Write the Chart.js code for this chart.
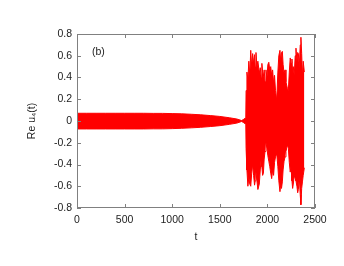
<!DOCTYPE html>
<html>
<head>
<meta charset="utf-8">
<script src="https://cdn.jsdelivr.net/npm/chart.js@4/dist/chart.umd.min.js"></script>
<style>
  html, body { margin: 0; padding: 0; background: #fff; }
  #wrap { width: 344px; height: 266px; }
</style>
</head>
<body>
<div id="wrap"><canvas id="grafica" width="344" height="266"></canvas></div>
<script>
// envelope of Re u4(t)
const tiempos = [0, 100, 200, 300, 400, 500, 600, 700, 800, 900, 1000, 1100, 1200, 1300, 1400, 1500, 1600, 1680, 1730, 1750, 1773,
  1776, 1785, 1795, 1805, 1815, 1825, 1835, 1845, 1855, 1865, 1872, 1880, 1890, 1900, 1915, 1925, 1935, 1942, 1950, 1958,
  1966, 1975, 1985, 1995, 2005, 2015, 2025, 2035, 2045, 2055, 2065, 2075, 2085, 2098, 2110, 2120, 2132, 2140, 2148, 2157,
  2165, 2175, 2185, 2195, 2210, 2220, 2230, 2240, 2248, 2258, 2265, 2272, 2282, 2292, 2300, 2310, 2318, 2325, 2335, 2345,
  2352, 2360, 2368, 2376, 2388];
const superior = [0.071, 0.071, 0.071, 0.071, 0.071, 0.071, 0.071, 0.071, 0.07, 0.07, 0.068, 0.066, 0.062, 0.057, 0.05, 0.042, 0.03, 0.018, 0.004, 0.015, 0.03,
  0.28, 0.45, 0.38, 0.55, 0.42, 0.65, 0.50, 0.62, 0.53, 0.61, 0.50, 0.63, 0.50, 0.55, 0.44, 0.49, 0.40, 0.53, 0.45, 0.41,
  0.47, 0.36, 0.47, 0.40, 0.52, 0.54, 0.47, 0.50, 0.42, 0.47, 0.35, 0.42, 0.28, 0.19, 0.45, 0.60, 0.65, 0.55, 0.63, 0.64,
  0.52, 0.44, 0.47, 0.36, 0.30, 0.28, 0.45, 0.58, 0.53, 0.57, 0.45, 0.50, 0.42, 0.60, 0.67, 0.55, 0.63, 0.62, 0.50, 0.70,
  0.77, 0.62, 0.41, 0.55, 0.45];
const inferior = [-0.073, -0.073, -0.073, -0.073, -0.073, -0.073, -0.073, -0.073, -0.072, -0.072, -0.07, -0.067, -0.063, -0.058, -0.051, -0.043, -0.031, -0.019, -0.004, -0.015, -0.03,
  -0.25, -0.45, -0.60, -0.52, -0.58, -0.60, -0.48, -0.40, -0.50, -0.59, -0.55, -0.47, -0.55, -0.63, -0.58, -0.45, -0.34, -0.42, -0.50, -0.48,
  -0.35, -0.28, -0.20, -0.25, -0.32, -0.37, -0.42, -0.48, -0.53, -0.45, -0.50, -0.38, -0.33, -0.30, -0.42, -0.55, -0.65, -0.58, -0.62, -0.56,
  -0.45, -0.37, -0.33, -0.28, -0.22, -0.25, -0.38, -0.47, -0.42, -0.55, -0.62, -0.58, -0.50, -0.53, -0.55, -0.60, -0.66, -0.63, -0.52, -0.68,
  -0.77, -0.62, -0.56, -0.50, -0.43];

const ticksX = [0, 500, 1000, 1500, 2000, 2500];
const ticksY = [-0.8, -0.6, -0.4, -0.2, 0, 0.2, 0.4, 0.6, 0.8];

const puntos = (ys) => tiempos.map((t, i) => ({ x: t, y: ys[i] }));
const fuente = { family: 'Liberation Sans, Arial, sans-serif', size: 10.5 };

// gnuplot style frame with inward ticks + panel label
const marco = {
  id: 'marco',
  afterDatasetsDraw(chart) {
    const { ctx, chartArea: a, scales } = chart;
    ctx.save();
    ctx.strokeStyle = '#808080';
    ctx.lineWidth = 1;
    ctx.strokeRect(a.left + 0.5, a.top + 0.5, a.right - a.left - 1, a.bottom - a.top - 1);
    ctx.beginPath();
    ticksX.forEach(v => {
      const px = Math.round(scales.x.getPixelForValue(v)) + 0.5;
      ctx.moveTo(px, a.bottom); ctx.lineTo(px, a.bottom - 4);
      ctx.moveTo(px, a.top); ctx.lineTo(px, a.top + 4);
    });
    ticksY.forEach(v => {
      const py = Math.round(scales.y.getPixelForValue(v)) + 0.5;
      ctx.moveTo(a.left, py); ctx.lineTo(a.left + 4, py);
      ctx.moveTo(a.right, py); ctx.lineTo(a.right - 4, py);
    });
    ctx.stroke();
    ctx.fillStyle = '#222';
    ctx.font = '10.5px Liberation Sans, Arial, sans-serif';
    ctx.textBaseline = 'middle';
    ctx.fillText('(b)', a.left + 15, a.top + 18);
    ctx.restore();
  }
};

new Chart(document.getElementById('grafica').getContext('2d'), {
  type: 'line',
  data: {
    datasets: [
      { data: puntos(superior), borderColor: '#ff0000', backgroundColor: '#ff0000', borderWidth: 1, pointRadius: 0, tension: 0, fill: '+1' },
      { data: puntos(inferior), borderColor: '#ff0000', backgroundColor: '#ff0000', borderWidth: 1, pointRadius: 0, tension: 0, fill: false }
    ]
  },
  options: {
    responsive: false,
    animation: false,
    layout: { padding: { left: 0, right: 29, top: 34, bottom: 0 } },
    plugins: { legend: { display: false }, tooltip: { enabled: false } },
    scales: {
      x: {
        type: 'linear', min: 0, max: 2500,
        afterFit: (s) => { s.height = 58; },
        afterBuildTicks: (s) => { s.ticks = ticksX.map(v => ({ value: v })); },
        grid: { display: false, drawTicks: false },
        border: { display: false },
        ticks: { color: '#222', font: fuente, padding: 6, maxRotation: 0, callback: (v) => String(v) },
        title: { display: true, text: 't', color: '#222', font: fuente, padding: { top: 0, bottom: 23 } }
      },
      y: {
        min: -0.8, max: 0.8,
        afterFit: (s) => { s.width = 77; },
        afterBuildTicks: (s) => { s.ticks = ticksY.map(v => ({ value: v })); },
        grid: { display: false, drawTicks: false },
        border: { display: false },
        ticks: { color: '#222', font: fuente, padding: 5, callback: (v) => String(v) },
        title: { display: true, text: 'Re u\u2084(t)', color: '#222', font: fuente, padding: { top: 26, bottom: 0 } }
      }
    }
  },
  plugins: [marco]
});
</script>
</body>
</html>
